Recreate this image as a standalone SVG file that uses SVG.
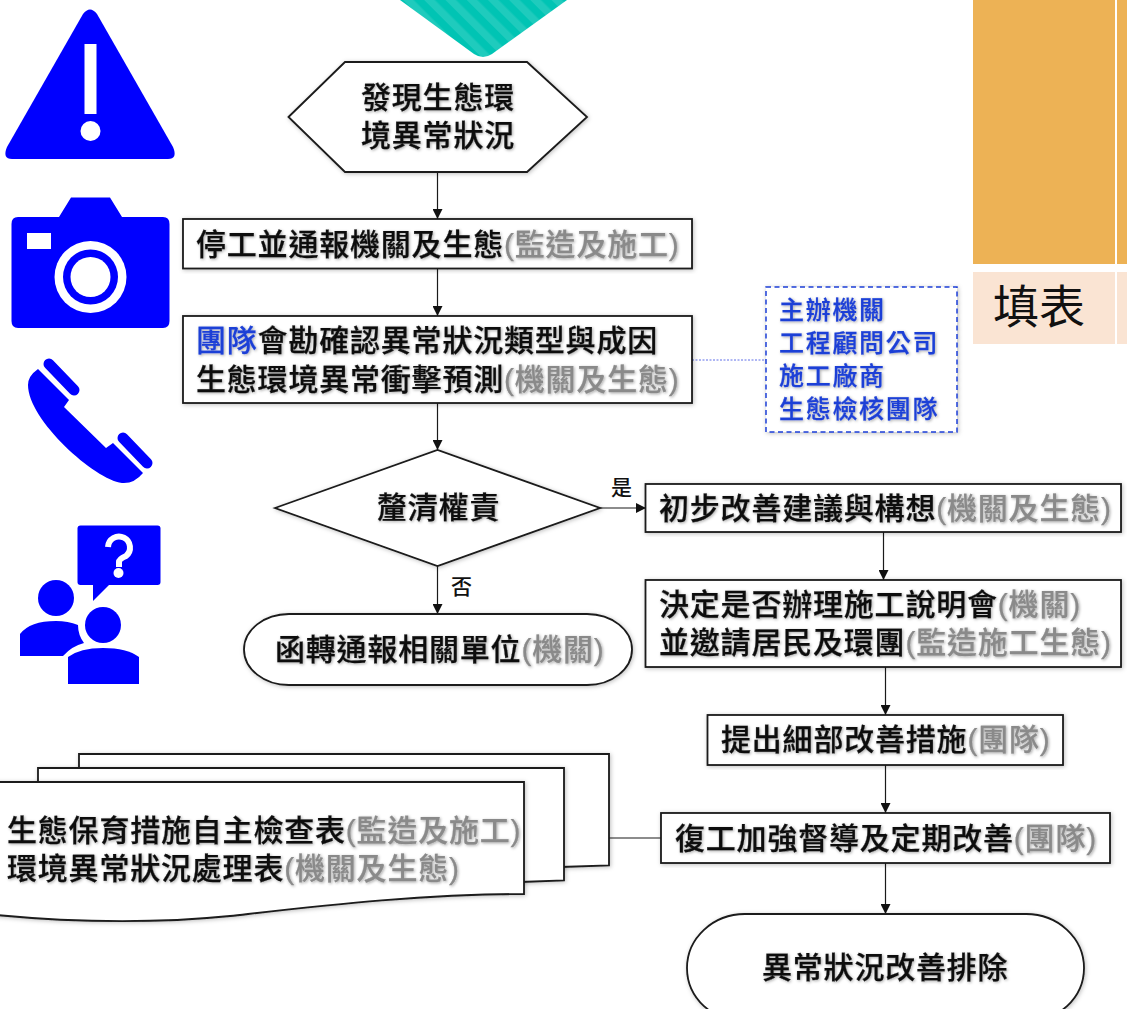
<svg xmlns="http://www.w3.org/2000/svg" width="1127" height="1009" viewBox="0 0 1127 1009">
<style>
.t{font-family:"Liberation Sans","Noto Sans CJK TC","Noto Sans CJK SC",sans-serif;font-weight:500;font-size:30px;letter-spacing:.8px;fill:#111;stroke:#111;stroke-width:.25;filter:url(#ts)}
.g{fill:#8a8a8a;stroke:#8a8a8a}
.u{fill:#1c3fd6;stroke:#1c3fd6}
.s{fill:#fff;stroke:#1a1a1a;stroke-width:1.8;filter:url(#bs)}
.c{fill:none;stroke:#1a1a1a;stroke-width:1.2}
.b{font-family:"Noto Sans CJK TC",sans-serif;font-weight:500;font-size:25px;letter-spacing:1.7px;fill:#1c3fd6;stroke:#1c3fd6;stroke-width:.25;filter:url(#ts)}
.l{font-family:"Noto Sans CJK TC",sans-serif;font-weight:500;font-size:21px;fill:#111}
.i{fill:#0000ff}
</style>
<defs>
<filter id="ts" x="-5%" y="-30%" width="110%" height="160%"><feDropShadow dx="1" dy="1" stdDeviation="1.5" flood-color="#000" flood-opacity=".35"/></filter>
<filter id="bs" x="-5%" y="-10%" width="110%" height="120%"><feDropShadow dx="1" dy="1" stdDeviation="2" flood-color="#000" flood-opacity=".25"/></filter>
<marker id="a" markerUnits="userSpaceOnUse" markerWidth="11" markerHeight="10" refX="10" refY="5" orient="auto"><path d="M0 0L10 5L0 10Z" fill="#111"/></marker>
<pattern id="st" patternUnits="userSpaceOnUse" width="15" height="15" patternTransform="rotate(-45)"><rect width="15" height="15" fill="#00c4b4"/><rect width="7.500" height="15" fill="#1fcbbd"/></pattern>
</defs>
<rect width="1127" height="1009" fill="#fff"/>

<g id="decor">
<path d="M400 0L474 54Q483 60 492 54L567 0Z" fill="url(#st)"/>
<rect x="973" y="0" width="142" height="264" fill="#edb255"/>
<rect x="1117" y="0" width="10" height="264" fill="#edb255"/>
<rect x="973" y="272" width="142" height="72" fill="#fae4d3"/>
<rect x="1117" y="272" width="10" height="72" fill="#fae4d3"/>
<text x="993" y="323" font-family="Noto Sans CJK TC,sans-serif" font-size="46" fill="#111">填表</text>
</g>

<g id="icon-warning">
<path class="i" d="M83 14Q90 5 97 14L173 147Q178 159 168 159L12 159Q2 159 7 147Z"/>
<rect x="84.500" y="44" width="12" height="70" fill="#fff"/><circle cx="90.500" cy="131" r="10" fill="#fff"/>
</g>
<g id="icon-camera">
<path class="i" d="M59 217L71 197.500H110L122 217H163Q169.500 217 169.500 224V321Q169.500 328 163 328H18Q11.500 328 11.500 321V224Q11.500 217 18 217Z"/>
<rect x="27" y="233" width="24" height="16" fill="#fff"/>
<circle cx="90.500" cy="277" r="36" fill="#fff"/><circle cx="90.500" cy="277" r="27.500" class="i"/><circle cx="90.500" cy="277" r="20" fill="#fff"/>
</g>
<g id="icon-phone">
<path class="i" d="M38 369L69 400L64 407L106 448L113 443L143 473Q134 484 122 483C95 480 28 420 28 385Q28 376 38 369Z"/>
<path d="M49 364L74 390" stroke="#0000ff" stroke-width="11" stroke-linecap="round"/>
<path d="M123 438L147 463" stroke="#0000ff" stroke-width="11" stroke-linecap="round"/>
</g>
<g id="icon-people">
<rect class="i" x="77.500" y="525.500" width="83" height="59.500" rx="3"/>
<path class="i" d="M93 584V601L110 584Z"/>
<path d="M108 547A11 11 0 1 1 126 556Q119 559 119 562V567" fill="none" stroke="#fff" stroke-width="6"/>
<circle cx="118.500" cy="573" r="5" fill="#fff"/>
<circle class="i" cx="56" cy="598" r="18"/>
<path class="i" d="M20 656V634Q30 621 56 621Q68 621 78 625Q78 635 84 643Q72 646 63 656Z"/>
<circle class="i" cx="103" cy="625" r="18"/>
<path class="i" d="M68 684V657Q80 648 103 648Q127 648 139 657V684Z"/>
</g>

<g id="connectors">
<path class="c" marker-end="url(#a)" d="M437.500 172V219"/>
<path class="c" marker-end="url(#a)" d="M437.500 269V316"/>
<path class="c" marker-end="url(#a)" d="M437.500 403V450"/>
<path class="c" marker-end="url(#a)" d="M437.500 566V614"/>
<path class="c" marker-end="url(#a)" d="M600 508H646"/>
<path class="c" marker-end="url(#a)" d="M883.500 532V580"/>
<path class="c" marker-end="url(#a)" d="M885.500 667V715"/>
<path class="c" marker-end="url(#a)" d="M885.500 765V813"/>
<path class="c" marker-end="url(#a)" d="M885.500 863V914"/>
<path class="c" d="M609 838H661"/>
<path d="M692 360H766" fill="none" stroke="#5f6fe8" stroke-width="1" stroke-dasharray="2 1.500"/>
</g>

<g id="n-start"><path class="s" d="M288.500 117L345 62H527L587 117L527 172H345Z"/>
<text class="t" x="361" y="108">發現生態環</text><text class="t" x="361" y="146">境異常狀況</text></g>
<g id="n-stop"><rect class="s" x="183" y="219" width="509" height="49.500"/>
<text class="t" x="196" y="255">停工並通報機關及生態<tspan class="g">(監造及施工)</tspan></text></g>
<g id="n-survey"><rect class="s" x="183" y="316" width="509" height="87"/>
<text class="t" x="196" y="351"><tspan class="u">團隊</tspan>會勘確認異常狀況類型與成因</text>
<text class="t" x="196" y="390">生態環境異常衝擊預測<tspan class="g">(機關及生態)</tspan></text></g>
<g id="n-team"><rect x="766" y="287" width="191" height="145" fill="#fff" stroke="#1c3fd6" stroke-width="1.500" stroke-dasharray="5 3.500" filter="url(#bs)"/>
<text class="b" x="779" y="319">主辦機關</text><text class="b" x="779" y="352">工程顧問公司</text><text class="b" x="779" y="385">施工廠商</text><text class="b" x="779" y="418">生態檢核團隊</text></g>
<g id="n-decision"><path class="s" d="M275 508L437.500 450L600 508L437.500 566Z"/>
<text class="t" x="377" y="518">釐清權責</text>
<text class="l" x="611" y="495">是</text><text class="l" x="451" y="594">否</text></g>
<g id="n-notify"><rect class="s" x="244" y="614" width="388" height="71" rx="45" ry="35.500"/>
<text class="t" x="275" y="660">函轉通報相關單位<tspan class="g">(機關)</tspan></text></g>
<g id="n-advice"><rect class="s" x="645.500" y="484" width="475.500" height="48"/>
<text class="t" x="659" y="519">初步改善建議與構想<tspan class="g">(機關及生態)</tspan></text></g>
<g id="n-meeting"><rect class="s" x="645.500" y="580" width="475.500" height="87"/>
<text class="t" x="659" y="615">決定是否辦理施工說明會<tspan class="g">(機關)</tspan></text>
<text class="t" x="659" y="653">並邀請居民及環團<tspan class="g">(監造施工生態)</tspan></text></g>
<g id="n-measures"><rect class="s" x="707.500" y="715" width="355.500" height="50"/>
<text class="t" x="721" y="750">提出細部改善措施<tspan class="g">(團隊)</tspan></text></g>
<g id="n-resume"><rect class="s" x="661" y="813" width="449" height="50"/>
<text class="t" x="675" y="849">復工加強督導及定期改善<tspan class="g">(團隊)</tspan></text></g>
<g id="n-end"><rect class="s" x="687" y="914" width="397" height="108" rx="58" ry="54"/>
<text class="t" x="762" y="978">異常狀況改善排除</text></g>
<g id="n-docs">
<path class="s" d="M79 880V754H609V865.500L560 867Z"/>
<path class="s" d="M38 895V768H564V880.500L520 882Z"/>
<path class="s" d="M-4 782H524V894C420 894 320 906 230 916C150 924 70 922 -4 915Z"/>
<text class="t" x="7" y="841">生態保育措施自主檢查表<tspan class="g">(監造及施工)</tspan></text>
<text class="t" x="7" y="879">環境異常狀況處理表<tspan class="g">(機關及生態)</tspan></text>
</g>
</svg>
